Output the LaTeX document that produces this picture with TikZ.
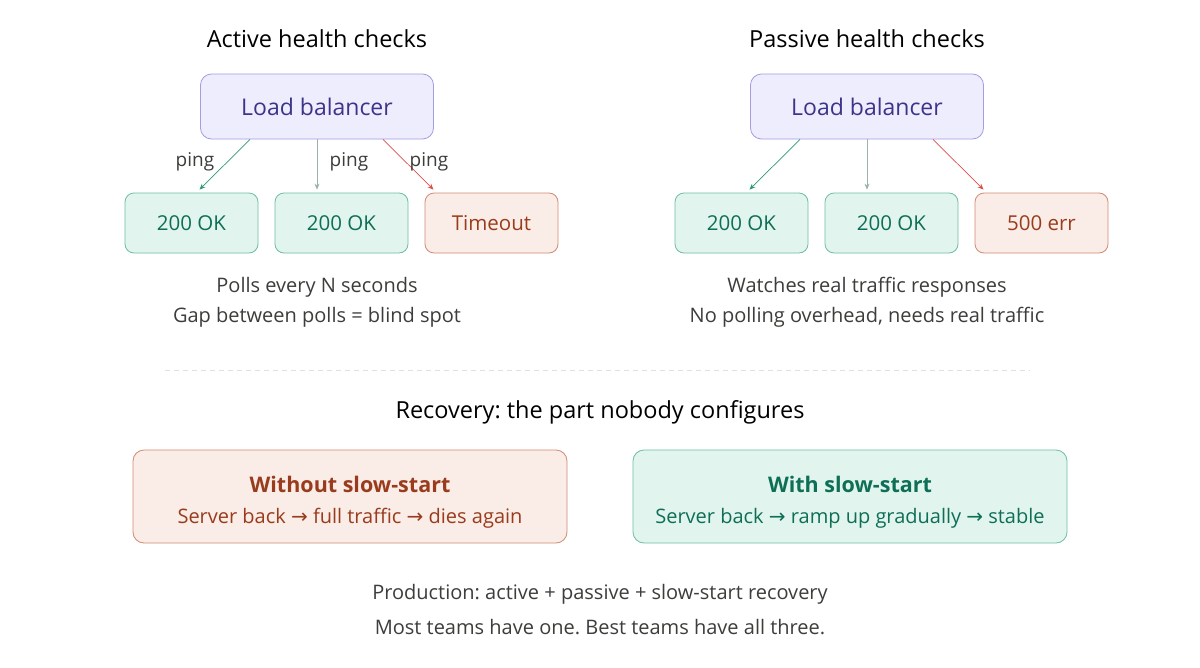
\documentclass[tikz,border=0pt]{standalone}
\usepackage{fontspec}
\setmainfont{Open Sans}
\newfontfamily\symfont{DejaVu Sans}
\usepackage{xcolor}
\usetikzlibrary{positioning,arrows.meta}
\frenchspacing

\definecolor{lbfill}{HTML}{EEEDFE}
\definecolor{lbline}{HTML}{A49DDF}
\definecolor{lbtext}{HTML}{3C3489}
\definecolor{okfill}{HTML}{E1F5EE}
\definecolor{okline}{HTML}{6DBF9F}
\definecolor{oktext}{HTML}{0F6E56}
\definecolor{badfill}{HTML}{FAECE7}
\definecolor{badline}{HTML}{D28A72}
\definecolor{badtext}{HTML}{993C1D}
\definecolor{capgray}{HTML}{3D3D3A}
\definecolor{arrgreen}{HTML}{2E9A74}
\definecolor{arrgray}{HTML}{9DB3A9}
\definecolor{arrred}{HTML}{DE4F4A}

\newcommand{\ra}{{\symfont\char"2192}}

\tikzset{
	lbbox/.style={draw=lbline, fill=lbfill, rounded corners=11pt, line width=0.8pt,
		minimum width=233pt, minimum height=65pt, text=lbtext, font=\fontsize{23}{27}\selectfont},
	okbox/.style={draw=okline, fill=okfill, rounded corners=9pt, line width=0.8pt,
		minimum width=133pt, minimum height=60pt, text=oktext, font=\fontsize{20.5}{24}\selectfont},
	badbox/.style={okbox, draw=badline, fill=badfill, text=badtext},
	title/.style={font=\fontsize{23.5}{28}\selectfont, text=black},
	caption/.style={font=\fontsize{20}{24}\selectfont, text=capgray},
	ping/.style={font=\fontsize{19}{23}\selectfont, text=capgray},
	head/.style={font=\fontsize{21.5}{26}\selectfont\bfseries},
	link/.style={line width=0.7pt, -{Stealth[length=6pt,width=5pt]}},
	bigbox/.style={rounded corners=11pt, line width=0.8pt, minimum width=434pt, minimum height=93pt},
}

\begin{document}
\begin{tikzpicture}[x=1pt,y=-1pt]
		\useasboundingbox[fill=white] (0,0) rectangle (1200,667);
		
		% the two sides
		\node[title] (titA) at (317,39) {Active health checks};
		\node[title] (titP) at (867,39) {Passive health checks};
		
		\node[lbbox] (lbA) at (317,106.5) {Load balancer};
		\node[lbbox] (lbP) at (867,106.5) {Load balancer};
		
		\foreach \s/\x in {A/0,P/550}
		{
		\node[okbox] (ok1\s) at (191.5+\x,223) {200 OK};
		\node[okbox] (ok2\s) at (341.5+\x,223) {200 OK};
		}
		\node[badbox] (badA) at (491.5,223) {Timeout};
		\node[badbox] (badP) at (1041.5,223) {500 err};
		
		\foreach \s in {A,P}
		{
		\draw[link,arrgreen] ([xshift=-67pt]lb\s.south) -- ([xshift=8pt,yshift=3pt]ok1\s.north);
		\draw[link,arrgray] ([xshift=0pt]lb\s.south) -- ([xshift=-24.5pt,yshift=3pt]ok2\s.north);
		\draw[link,arrred] ([xshift=66pt]lb\s.south) -- ([xshift=-58pt,yshift=3pt]bad\s.north);
		}
		
		\node[ping] (pingL) at (195,162) {ping};
		\node[ping] (pingM) at (349,162) {ping};
		\node[ping] (pingR) at (429,162) {ping};
		
		\node[caption] (capA1) at (317,287) {Polls every N seconds};
		\node[caption] (capA2) at (317,317) {Gap between polls = blind spot};
		\node[caption] (capP1) at (867,287) {Watches real traffic responses};
		\node[caption] (capP2) at (867,317) {No polling overhead, needs real traffic};
		
		\draw[color=black!12, line width=0.8pt, dash pattern=on 5pt off 4pt] (165,370) -- (1030,370);
		
		% recovery
		\node[title] (titR) at (600,412) {Recovery: the part nobody configures};
		
		\node[bigbox, draw=badline, fill=badfill] (slowNo) at (350,496.5) {};
		\node[bigbox, draw=okline, fill=okfill] (slowYes) at (850,496.5) {};
		\node[head, text=badtext] (noHead) at (350,484) {Without slow-start};
		\node[caption, text=badtext] (noBody) at (350,518) {Server back \ra{} full traffic \ra{} dies again};
		\node[head, text=oktext] (yesHead) at (850,484) {With slow-start};
		\node[caption, text=oktext] (yesBody) at (850,518) {Server back \ra{} ramp up gradually \ra{} stable};
		
		\node[caption] (prod1) at (600,594) {Production: active + passive + slow-start recovery};
		\node[caption] (prod2) at (600,627) {Most teams have one. Best teams have all three.};
	\end{tikzpicture}
\end{document}
